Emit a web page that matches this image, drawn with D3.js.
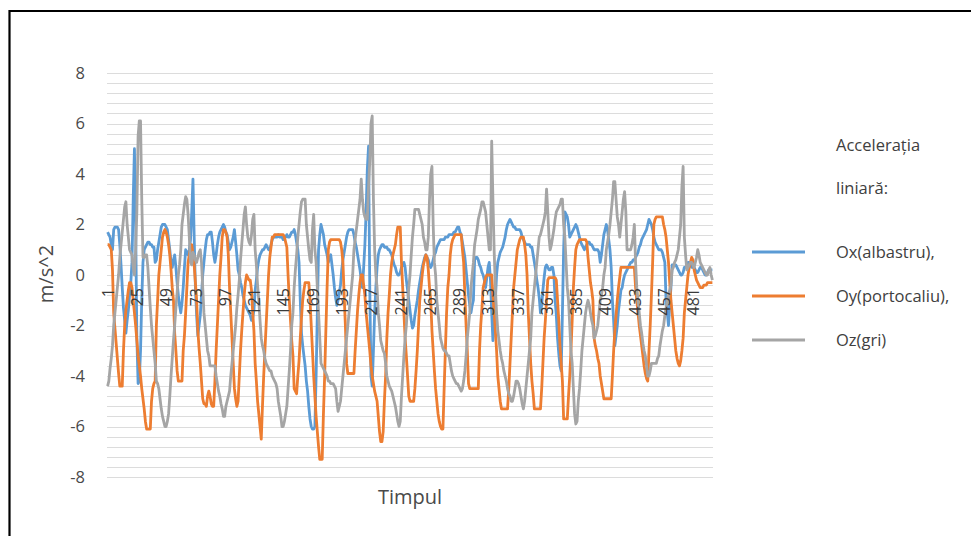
<!DOCTYPE html>
<html>
<head>
<meta charset="utf-8">
<script src="https://cdn.jsdelivr.net/npm/d3@7"></script>
<style>
  html, body { margin: 0; padding: 0; background: #fff; }
  svg { display: block; font-family: "Open Sans", sans-serif; }
</style>
</head>
<body>
<svg id="chart" width="971" height="536"></svg>
<script>
// Linear acceleration samples (m/s^2) on the three axes
const ox = [
  1.7,1.6,1.5,1.2,1.0, 1.8,1.9,1.9,1.9,1.8, 1.2,0.4,-0.5,-1.3,-1.8, -2.3,-1.8,-1.4,-0.8,-0.3,
  0.5,3.0,5.0,2.0,-2.5, -4.3,-4.2,-3.0,-1.0,0.5, 1.0,1.1,1.2,1.3,1.3, 1.2,1.2,1.1,1.1,0.5,
  0.6,1.0,1.3,1.6,1.9, 2.0,2.0,2.0,1.9,1.8, 1.4,1.0,0.5,0.3,0.6, 0.8,0.3,-0.3,-0.8,-1.2,
  -1.5,-1.1,-0.5,0.3, 1.0,0.9,0.8,1.0,1.4, 2.5,3.8,1.5,-0.5,-1.6, -2.4,-2.0,-1.6,-0.8,0.0,
  0.5,1.0,1.4,1.6,1.6, 1.7,1.7,1.3,0.8,0.5, 0.8,1.2,1.5,1.7,1.8, 1.9,2.0,1.9,1.7,1.6,
  1.3,1.0,1.1,1.3,1.5, 1.8,1.3,0.8,0.2,0.0, -0.3,-0.5,-0.8,-1.0,-1.2, -1.3,-1.4,-1.5,-1.6,-1.8,
  -1.7,-1.4,-0.6,-0.2, 0.3,0.6,0.8,0.9,1.0, 1.0,1.1,1.2,1.1,1.0, 1.0,1.2,1.4,1.5,1.5,
  1.5,1.5,1.6,1.5,1.5, 1.5,1.4,1.5,1.5,1.6, 1.5,1.5,1.6,1.7,1.7, 1.8,1.6,1.3,1.0,0.5,
  -1.0,-2.3,-2.8,-3.2,-3.6, -4.2,-4.6,-5.2,-5.7,-6.0, -6.1,-6.1,-6.0,-4.0,-1.5, 1.0,1.6,2.0,1.8,1.6,
  1.2,1.0,0.8,0.5, 0.7,0.8,0.4,0.0,-0.5, -0.9,-1.2,-1.0,-0.7,-0.4, 0.2,0.6,0.9,1.2,1.5,
  1.7,1.8,1.8,1.8,1.8, 1.6,1.3,1.1,0.8,0.5, 0.2,-0.2,-0.5,0.3,1.2, 2.5,4.2,5.1,-0.5,-4.0,
  -4.4,-3.0,-1.5,-0.5,0.3, 0.8,1.0,1.1,1.2,1.2, 1.1,1.1,1.1,1.0,1.0, 0.9,0.8,0.6,0.4,0.3,
  0.1,0.0,0.0,0.1, 0.3,0.4,0.5,0.3,-0.2, -0.6,-1.0,-1.4,-1.8,-2.1, -2.0,-1.6,-1.3,-1.0,-0.6,
  -0.3,0.0,0.3,0.5,0.7, 0.8,0.7,0.6,0.4,0.3, 0.4,0.6,0.8,0.9,1.1, 1.2,1.3,1.4,1.4,1.4,
  1.4,1.5,1.5,1.5,1.6, 1.6,1.6,1.6,1.7,1.7, 1.8,1.9,1.9,1.7,1.6, 1.3,1.0,0.7,0.2,-0.3,
  -0.8,-1.2,-1.5,-1.2,-1.0, 0.6,0.7,0.7,0.6, 0.4,0.3,0.1,0.0,-0.2, -0.5,-0.1,0.3,0.5,-0.2,
  -1.5,-2.6,-2.0,-1.0,0.0, 0.5,0.7,0.9,1.0,1.1, 1.3,1.5,1.8,2.0,2.1, 2.2,2.1,2.0,1.9,1.9,
  1.8,1.8,1.8,1.8,1.7, 1.5,1.4,1.3,1.2,1.2, 1.2,1.2,1.1,1.1,0.8, 0.5,0.2,-0.2,-0.5,-0.9,
  -1.5,-1.2,-0.6,-0.1,0.3, 0.4,0.3,0.2,0.2, 0.3,0.3,0.0,-1.0,-1.6, -2.5,-3.1,-3.6,-3.8,-1.5,
  1.0,2.5,2.4,2.3,2.0, 1.5,1.6,1.7,1.8,1.9, 2.0,1.9,1.7,1.5,1.3, 1.2,1.1,1.0,1.1,1.2,
  1.3,1.3,1.2,1.2,1.1, 1.0,1.0,1.0,1.0,0.9, 0.5,0.8,1.2,1.6,1.8, 2.0,1.8,1.4,1.0,0.3,
  -1.0,-1.8,-2.8,-2.4,-2.0, -1.4,-1.0,-0.6,-0.5, -0.2,0.0,0.1,0.2,0.3, 0.4,0.5,0.5,0.6,0.6,
  0.7,0.8,0.9,1.1,1.2, 1.4,1.5,1.6,1.7,1.8, 2.0,2.2,2.1,2.0,1.8, 1.5,1.3,1.2,1.1,1.0,
  1.0,1.0,0.9,0.7,0.5, -1.0,-1.5,-2.0,-1.2,-0.5, 0.4,0.4,0.4,0.4,0.3, 0.2,0.1,0.0,0.0,0.1,
  0.3,0.3,0.4,0.5,0.5, 0.4,0.3,0.3,0.3, 0.2,0.1,0.1,0.2,0.3, 0.3,0.2,0.1,0.0,0.0,
  0.1,0.2,0.2,0.2,0.2
];
const oy = [
  1.2,1.2,1.1,1.0,0.2, -1.5,-2.1,-2.7,-3.3,-3.9, -4.4,-4.4,-4.4,-3.0,-2.0, -1.4,-1.0,-0.6,-0.3,-0.3,
  -0.5,-1.0,-1.5,-2.0,-2.6, -3.2,-3.6,-4.0,-4.5,-4.9, -5.3,-5.8,-6.1,-6.1,-6.1, -6.1,-5.0,-4.5,-4.3,-4.2,
  -2.0,-1.0,0.0,0.5,1.0, 1.5,1.7,1.8,1.7,1.5, 1.2,0.8,0.2,-0.5,-1.0, -2.3,-3.0,-3.8,-4.2,-4.2,
  -4.2,-4.2,-3.0,-2.4, -1.5,-0.5,0.5,0.8,1.1, 1.2,0.8,0.4,-0.3,-1.0, -2.2,-2.9,-3.5,-4.2,-4.9,
  -5.1,-5.1,-5.2,-4.8,-4.6, -4.8,-5.1,-5.2,-5.2,-4.2, -3.0,-2.0,-1.0,0.0,0.7, 1.5,1.8,1.8,1.7,1.5,
  0.8,-0.5,-1.5,-2.5,-3.5, -4.5,-4.9,-5.2,-5.0,-4.0, -3.0,-2.2,-1.5,-0.8,-0.3, 0.0,-0.1,-0.2,-0.2,-0.6,
  -1.5,-2.2,-3.5,-4.2, -5.0,-5.5,-6.0,-6.5,-5.2, -4.0,-3.0,-2.0,-1.0,0.0, 0.7,1.1,1.5,1.5,1.6,
  1.6,1.6,1.6,1.6,1.6, 1.6,1.6,1.5,1.3,1.1, 0.0,-1.0,-1.8,-2.6,-3.2, -4.5,-4.6,-4.7,-4.0,-3.4,
  -2.5,-1.7,-1.0,-0.6,-0.3, -0.3,-0.3,-0.3,-1.0,-2.0, -3.0,-4.0,-4.8,-5.6,-6.2, -6.8,-7.3,-7.3,-7.3,-5.5,
  -4.0,-2.2,-0.5,1.0, 1.3,1.4,1.4,1.4,1.4, 1.4,1.4,1.4,1.4,1.3, 1.0,0.5,-0.8,-2.0,-3.5,
  -3.9,-3.9,-3.9,-3.9,-3.9, -3.9,-3.0,-2.2,-1.4,-0.8, -0.3,0.0,0.0,-0.4,-0.8, -1.5,-2.0,-2.5,-3.0,-3.6,
  -4.0,-4.3,-4.6,-4.8,-5.0, -5.6,-6.2,-6.6,-6.6,-6.2, -5.0,-4.0,-2.5,-1.5,-0.8, 0.0,0.5,0.8,1.0,1.2,
  1.6,1.9,1.9,1.9, 0.5,-0.5,-1.5,-2.5,-3.2, -4.0,-4.8,-5.0,-5.0,-5.0, -5.0,-4.5,-3.8,-3.0,-2.0,
  -1.0,-0.5,0.0,0.4,0.6, 0.8,0.7,0.2,-0.5,-1.0, -2.2,-3.0,-3.8,-4.5,-5.0, -5.5,-5.8,-6.0,-6.1,-6.1,
  -4.5,-3.0,-1.5,-0.5,0.0, 0.8,1.2,1.4,1.5,1.6, 1.6,1.6,1.6,1.6,1.6, 1.0,0.5,-0.8,-2.0,-3.0,
  -4.3,-4.5,-4.5,-4.5,-4.5, -4.5,-4.5,-4.5,-4.5, -3.0,-2.0,-1.3,-0.5,-0.3, -0.1,0.0,0.0,0.0,0.0,
  0.0,-0.8,-1.5,-2.2,-3.0, -4.0,-4.5,-5.0,-5.3,-5.3, -5.3,-5.3,-5.3,-5.3,-4.5, -3.5,-2.5,-1.5,-0.5,0.0,
  0.5,1.0,1.2,1.4,1.5, 1.5,1.5,1.2,0.8,0.0, -1.5,-2.5,-3.5,-4.2,-4.7, -5.3,-5.3,-5.3,-5.3,-5.3,
  -5.3,-4.5,-3.5,-2.5,-1.8, -1.0,-0.2,-0.1,-0.1, -0.1,-0.1,-0.1,-0.1,-0.2, -1.0,-1.8,-2.8,-3.5,-4.2,
  -5.7,-5.7,-5.7,-5.7,-4.8, -4.0,-3.0,-1.8,-0.5,0.3, 1.0,1.2,1.3,1.4,1.4, 1.4,1.4,1.4,1.4,1.3,
  0.7,0.2,-0.3,-0.6,-1.0, -2.5,-2.8,-3.0,-3.3,-3.5, -4.0,-4.3,-4.6,-4.9,-4.9, -4.9,-4.9,-4.9,-4.9,-4.9,
  -4.0,-3.0,-2.2,-1.6,-1.0, -0.5,-0.1,0.3,0.3, 0.3,0.3,0.3,0.3,0.3, 0.3,0.3,0.3,0.3,0.3,
  -0.5,-1.0,-1.5,-2.0,-2.4, -2.8,-3.2,-3.6,-3.9,-4.1, -4.2,-3.0,-2.0,-0.8,0.5, 2.0,2.2,2.3,2.3,2.3,
  2.3,2.3,2.3,2.0,1.8, 1.5,1.0,0.5,-0.3,-1.0, -1.5,-2.0,-2.5,-3.0,-3.3, -3.5,-3.6,-3.4,-3.0,-2.5,
  -1.5,-1.0,-0.5,0.0,0.3, 0.5,0.7,0.6,0.2, 0.0,-0.2,-0.3,-0.4,-0.5, -0.5,-0.5,-0.4,-0.4,-0.4,
  -0.3,-0.3,-0.3,-0.3,-0.3
];
const oz = [
  -4.4,-4.2,-3.7,-3.3,-2.8, -2.0,-1.5,-1.0,-0.5,0.0, 0.7,1.2,1.7,2.2,2.7, 2.9,2.0,1.5,1.0,0.9,
  0.8,0.3,0.0,1.0,2.5, 5.5,6.1,6.1,3.0,0.7, 0.7,0.8,0.8,0.3,-0.5, -1.3,-2.0,-2.5,-3.0,-3.5,
  -4.2,-4.3,-4.5,-4.9,-5.3, -5.6,-5.8,-6.0,-6.0,-5.8, -5.5,-4.8,-4.0,-3.3,-2.6, -2.0,-1.3,-0.7,0.0,0.4,
  1.0,2.0,2.4,2.8, 3.1,3.0,2.4,1.5,0.5, 0.4,0.9,0.8,0.6,0.5, 0.7,0.9,1.0,0.5,-0.5,
  -1.5,-2.0,-2.5,-3.0,-3.2, -3.6,-3.6,-3.6,-3.6,-3.6, -4.0,-4.3,-4.6,-4.8,-5.1, -5.3,-5.6,-5.6,-5.2,-5.0,
  -4.8,-4.6,-4.0,-3.5,-3.0, -2.5,-2.0,-1.3,-0.8,-0.2, 0.6,1.2,1.8,2.4,2.7, 2.0,1.5,1.3,1.2,1.6,
  2.2,2.4,1.0,0.4, -0.4,-1.0,-1.8,-2.5,-2.8, -3.0,-3.3,-3.5,-3.6,-3.7, -3.8,-3.8,-4.0,-4.1,-4.2,
  -4.3,-4.5,-5.0,-5.3,-5.6, -6.0,-6.0,-5.8,-5.5,-5.2, -4.5,-3.8,-3.0,-2.0,-1.5, -0.5,0.2,0.8,1.5,2.0,
  2.5,2.9,3.0,3.0,3.0, 2.0,1.5,1.0,0.6,0.5, 1.8,2.4,1.0,0.5,-0.5, -1.5,-2.5,-3.5,-3.6,-3.7,
  -3.8,-3.9,-4.0,-4.2, -4.2,-4.3,-4.3,-4.3,-4.4, -4.5,-5.0,-5.4,-5.2,-5.0, -4.5,-4.0,-3.5,-3.0,-2.5,
  -2.0,-1.5,-1.0,-0.5,0.0, 1.0,1.4,1.8,2.2,2.6, 3.0,3.8,3.0,2.5,2.3, 2.2,2.2,3.5,4.5,6.0,
  6.3,3.0,1.0,0.0,-0.5, -1.5,-2.0,-2.6,-2.8,-3.0, -3.1,-3.5,-4.0,-4.2,-4.4, -4.5,-4.6,-4.8,-5.0,-5.2,
  -5.5,-5.8,-6.0,-5.8, -4.8,-4.0,-3.2,-2.5,-2.0, -1.2,-0.5,0.0,0.8,1.5, 2.0,2.6,2.6,2.6,2.6,
  2.4,2.2,2.0,1.5,1.3, 1.0,1.0,1.5,3.0,4.0, 4.3,2.0,0.5,0.0,-1.0, -1.5,-2.0,-2.5,-2.7,-2.9,
  -3.0,-3.0,-3.1,-3.2,-3.2, -3.5,-3.8,-4.0,-4.1,-4.2, -4.3,-4.3,-4.4,-4.5,-4.6, -4.5,-4.2,-3.8,-3.2,-2.5,
  -2.0,-1.5,-0.5,0.0,0.5, 1.2,1.5,1.8,2.2, 2.4,2.6,2.9,2.9,2.7, 2.5,2.0,1.5,1.0,1.0,
  5.3,3.0,1.0,-0.5,-1.5, -2.2,-2.6,-3.0,-3.3,-3.5, -3.8,-4.0,-4.2,-4.5,-4.7, -4.8,-5.0,-5.0,-4.8,-4.5,
  -4.2,-4.2,-4.3,-4.5,-4.8, -5.1,-5.3,-5.0,-4.5,-4.0, -3.5,-3.0,-2.5,-1.5,-1.0, -0.5,0.0,0.5,1.0,1.5,
  1.6,1.8,2.0,2.2,2.5, 3.4,2.5,1.5,1.0, 1.2,1.5,1.8,2.2,2.5, 2.6,2.7,2.8,3.0,3.0,
  2.0,1.5,0.5,-0.5,-1.0, -2.0,-3.0,-3.5,-4.5,-5.5, -5.9,-5.8,-5.0,-4.5,-3.8, -3.0,-2.5,-2.0,-1.5,-1.2,
  -1.0,-1.2,-1.5,-1.8,-2.0, -2.5,-2.4,-2.2,-2.0,-1.5, -1.0,-0.8,-0.5,0.0,0.3, 1.0,1.3,1.6,2.0,2.5,
  3.0,3.7,3.7,3.0,2.3, 2.0,1.5,2.0,2.5, 3.0,3.3,2.5,1.0,1.0, 1.0,1.0,1.2,1.5,2.0,
  0.5,-0.5,-1.0,-1.5,-2.0, -2.3,-2.7,-3.0,-3.2,-3.6, -4.0,-4.0,-3.8,-3.5,-3.5, -3.5,-3.5,-3.5,-3.3,-3.2,
  -2.8,-2.5,-2.2,-2.0,-1.6, -1.3,-1.0,-0.8,-0.6,-0.4, 0.2,0.3,0.5,0.6,0.8, 1.0,1.5,2.0,3.5,4.3,
  1.5,0.8,0.2,0.3,0.4, 0.5,0.5,0.4,0.3, 0.5,0.7,1.0,0.8,0.5, 0.4,0.3,0.2,0.1,0.0,
  0.0,0.2,0.3,0.0,-0.2
];

const seriesNames = ["Ox(albastru),", "Oy(portocaliu),", "Oz(gri)"];
const seriesColors = ["#5b9bd5", "#ed7d31", "#a5a5a5"];
const legendTitle = ["Accelerația", "liniară:"];
const xTickLabels = [1, 25, 49, 73, 97, 121, 145, 169, 193, 217, 241, 265, 289, 313, 337, 361, 385, 409, 433, 457, 481];
const yTicks = [-8, -6, -4, -2, 0, 2, 4, 6, 8];
const xTitle = "Timpul";
const yTitle = "m/s^2";

// sample numbers 1..N on the category axis
const categories = d3.range(1, ox.length + 1);
const series = [ox, oy, oz];

const svg = d3.select("#chart");
const textColor = "#4a4a4a";

const x = d3.scalePoint().domain(categories).range([107, 713]).padding(0.5);
const y = d3.scaleLinear().domain([-8, 8]).range([477, 73]);

// frame around the figure
svg.append("path")
  .attr("d", "M9.5,536 V11 H971")
  .attr("fill", "none")
  .attr("stroke", "#000")
  .attr("stroke-width", 2.2);

// horizontal gridlines (major and minor)
const gridValues = d3.range(0, 41).map(k => -8 + k * 0.4);
svg.append("g")
  .selectAll("line")
  .data(gridValues)
  .join("line")
  .attr("x1", 107).attr("x2", 713)
  .attr("y1", d => Math.round(y(d)) + 0.5)
  .attr("y2", d => Math.round(y(d)) + 0.5)
  .attr("stroke", "#dcdcdc")
  .attr("stroke-width", 1);

// y axis (plain hyphen for negatives)
const gy = svg.append("g")
  .attr("transform", "translate(107,0)")
  .call(d3.axisLeft(y).tickValues(yTicks).tickFormat(d => String(d)).tickSize(0).tickPadding(22));
gy.select(".domain").remove();
gy.attr("font-family", null).attr("font-size", null);
gy.selectAll("text")
  .style("font-size", "16.5px")
  .attr("fill", textColor);

// data lines
const line = d3.line()
  .x((d, i) => x(categories[i]))
  .y(d => y(d));

svg.append("g")
  .selectAll("path")
  .data(series)
  .join("path")
  .attr("d", d => line(d))
  .attr("fill", "none")
  .attr("stroke", (d, i) => seriesColors[i])
  .attr("stroke-width", 2.8)
  .attr("stroke-linejoin", "round");

// x axis, labels rotated and hanging from the zero line, drawn above the lines
const gx = svg.append("g")
  .attr("transform", `translate(0,${y(0)})`)
  .call(d3.axisBottom(x).tickValues(xTickLabels).tickSize(0).tickPadding(0));
gx.select(".domain").remove();
gx.attr("font-family", null).attr("font-size", null);
gx.selectAll("text")
  .attr("transform", "rotate(-90)")
  .attr("text-anchor", "end")
  .attr("x", -13)
  .attr("y", 0)
  .attr("dy", "0.36em")
  .style("font-size", "16px")
  .attr("fill", "#3a3a3a");

// axis titles
svg.append("text")
  .attr("x", 410).attr("y", 504)
  .attr("text-anchor", "middle")
  .style("font-size", "20px")
  .attr("fill", textColor)
  .text(xTitle);

svg.append("text")
  .attr("transform", "translate(53,274) rotate(-90)")
  .attr("text-anchor", "middle")
  .style("font-size", "20px")
  .attr("fill", textColor)
  .text(yTitle);

// legend
const lg = svg.append("g");
lg.selectAll("text.title")
  .data(legendTitle)
  .join("text")
  .attr("class", "title")
  .attr("x", 836)
  .attr("y", (d, i) => 145 + i * 43)
  .attr("dy", "0.35em")
  .style("font-size", "16.5px")
  .attr("fill", "#404040")
  .text(d => d);

const items = lg.selectAll("g.item")
  .data(seriesNames)
  .join("g")
  .attr("class", "item")
  .attr("transform", (d, i) => `translate(0,${252 + i * 44})`);
items.append("line")
  .attr("x1", 752).attr("x2", 805)
  .attr("stroke", (d, i) => seriesColors[i])
  .attr("stroke-width", 3.2);
items.append("text")
  .attr("x", 836)
  .attr("dy", "0.35em")
  .style("font-size", "16.5px")
  .attr("fill", "#404040")
  .text(d => d);
</script>
</body>
</html>
